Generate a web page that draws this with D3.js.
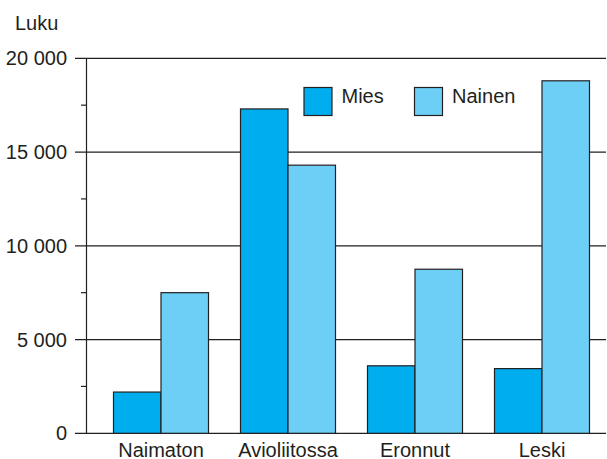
<!DOCTYPE html>
<html><head><meta charset="utf-8">
<script src="https://cdn.jsdelivr.net/npm/d3@7"></script>
<style>body{margin:0;background:#fff}svg{display:block;font-family:"Liberation Sans",Arial,sans-serif}</style>
</head><body><svg id="c" width="607" height="459"></svg>
<script>
const categories = ["Naimaton","Avioliitossa","Eronnut","Leski"];
const seriesNames = ["Mies","Nainen"];
const mies = [2200,17300,3600,3450];
const nainen = [7500,14300,8750,18800];
const majorTicks = [0,5000,10000,15000,20000];
const minorTicks = [2500,7500,12500,17500];
const colors = ["#00aeef","#6dcff6"];

const svg = d3.select("#c");
const y = d3.scaleLinear().domain([0,20000]).range([433.3,58.3]);
const x = d3.scaleBand().domain(categories).range([97.5,605.5]).paddingInner(0.252).paddingOuter(0.126);
const xs = d3.scaleBand().domain(seriesNames).range([0,x.bandwidth()]);
const fmt = v => d3.format(",")(v).replace(/,/g," ");
const ink = "#231f20";
const fs = 20;

svg.append("g").selectAll("line").data(majorTicks).join("line")
  .attr("x1",75).attr("x2",606).attr("y1",d=>y(d)).attr("y2",d=>y(d))
  .attr("stroke",ink).attr("stroke-width",1.2);
svg.append("g").selectAll("line").data(minorTicks).join("line")
  .attr("x1",81).attr("x2",87).attr("y1",d=>y(d)).attr("y2",d=>y(d))
  .attr("stroke",ink).attr("stroke-width",1.2);
svg.append("line").attr("x1",86.5).attr("x2",86.5).attr("y1",y(20000)).attr("y2",y(0)).attr("stroke",ink).attr("stroke-width",1.2);

svg.append("g").selectAll("text").data(majorTicks).join("text")
  .attr("x",67).attr("y",d=>y(d)+7).attr("text-anchor","end")
  .attr("font-size",fs).attr("fill",ink).text(fmt);

svg.append("text").attr("x",15).attr("y",29.5).attr("font-size",fs).attr("fill",ink).text("Luku");

const data = categories.map((c,i)=>({c, vals:[mies[i],nainen[i]]}));
const groups = svg.append("g").selectAll("g").data(data).join("g")
  .attr("transform",d=>`translate(${x(d.c)},0)`);
groups.selectAll("rect").data(d=>d.vals.map((v,j)=>({s:seriesNames[j],v,j}))).join("rect")
  .attr("x",d=>xs(d.s)).attr("width",xs.bandwidth())
  .attr("y",d=>y(d.v)).attr("height",d=>y(0)-y(d.v))
  .attr("fill",d=>colors[d.j]).attr("stroke",ink).attr("stroke-width",1.2);

svg.append("g").selectAll("text").data(categories).join("text")
  .attr("x",d=>x(d)+x.bandwidth()/2).attr("y",456.5).attr("text-anchor","middle")
  .attr("font-size",fs).attr("fill",ink).text(d=>d);

const lx = [304,414.5];
const leg = svg.append("g").selectAll("g").data(seriesNames).join("g")
  .attr("transform",(d,i)=>`translate(${lx[i]},87.5)`);
leg.append("rect").attr("width",28).attr("height",28)
  .attr("fill",(d,i)=>colors[i]).attr("stroke",ink).attr("stroke-width",1.2);
leg.append("text").attr("x",37.5).attr("y",15).attr("font-size",fs).attr("fill",ink).text(d=>d);
</script></body></html>
